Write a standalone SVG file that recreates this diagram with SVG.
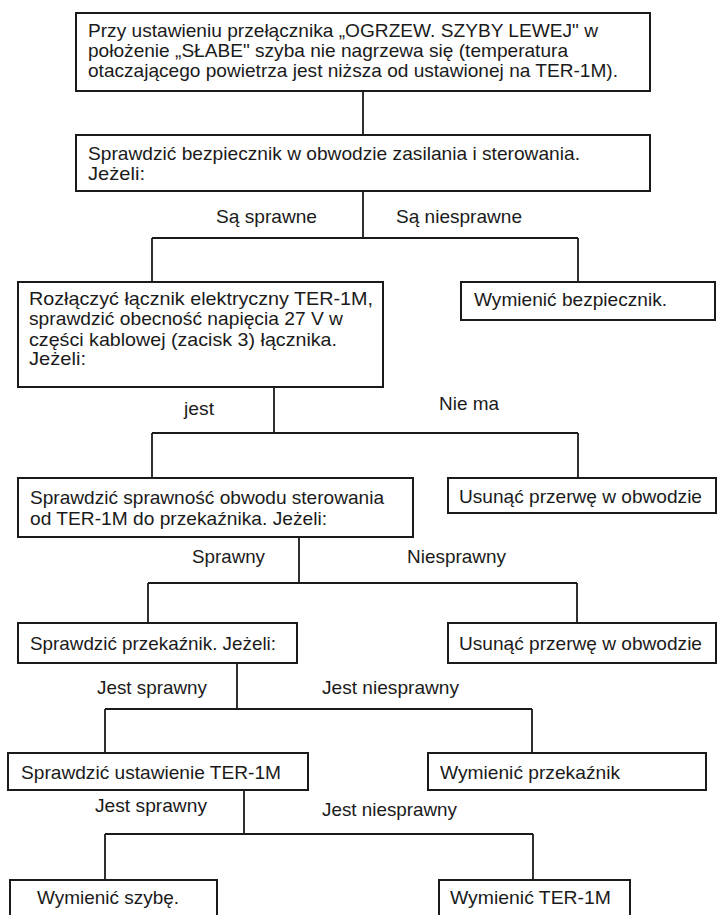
<svg xmlns="http://www.w3.org/2000/svg" width="717" height="915" viewBox="0 0 717 915">
<style>
rect{fill:#fff;stroke:#1a1a1a;stroke-width:2}
.c line{stroke:#1a1a1a;stroke-width:1.8}
text{font-family:"Liberation Sans",Arial,sans-serif;font-size:19px;fill:#1a1a1a}
</style>
<rect x="0" y="0" width="717" height="915" style="stroke:none"/>
<g class="c" id="connectors">
<line x1="363" y1="91" x2="363" y2="135"/>
<line x1="363" y1="191" x2="363" y2="238"/>
<line x1="152" y1="238" x2="578" y2="238"/>
<line x1="152" y1="238" x2="152" y2="282"/>
<line x1="578" y1="238" x2="578" y2="282"/>
<line x1="274" y1="387" x2="274" y2="433"/>
<line x1="152" y1="433" x2="578" y2="433"/>
<line x1="152" y1="433" x2="152" y2="478"/>
<line x1="578" y1="433" x2="578" y2="478"/>
<line x1="299" y1="537" x2="299" y2="583"/>
<line x1="148" y1="583" x2="577" y2="583"/>
<line x1="148" y1="583" x2="148" y2="623"/>
<line x1="577" y1="583" x2="577" y2="623"/>
<line x1="237" y1="663" x2="237" y2="709"/>
<line x1="105" y1="709" x2="532" y2="709"/>
<line x1="105" y1="709" x2="105" y2="753"/>
<line x1="532" y1="709" x2="532" y2="753"/>
<line x1="244" y1="790" x2="244" y2="834"/>
<line x1="105" y1="834" x2="533" y2="834"/>
<line x1="105" y1="834" x2="105" y2="880"/>
<line x1="533" y1="834" x2="533" y2="880"/>
<text x="216" y="223" textLength="101" lengthAdjust="spacingAndGlyphs">Są sprawne</text>
<text x="396" y="223" textLength="126" lengthAdjust="spacingAndGlyphs">Są niesprawne</text>
<text x="184" y="415" textLength="30" lengthAdjust="spacingAndGlyphs">jest</text>
<text x="439" y="410" textLength="60" lengthAdjust="spacingAndGlyphs">Nie ma</text>
<text x="192" y="563" textLength="73" lengthAdjust="spacingAndGlyphs">Sprawny</text>
<text x="407" y="563" textLength="99" lengthAdjust="spacingAndGlyphs">Niesprawny</text>
<text x="97" y="694" textLength="110" lengthAdjust="spacingAndGlyphs">Jest sprawny</text>
<text x="322" y="694" textLength="137" lengthAdjust="spacingAndGlyphs">Jest niesprawny</text>
<text x="95" y="812" textLength="112" lengthAdjust="spacingAndGlyphs">Jest sprawny</text>
<text x="322" y="816" textLength="135" lengthAdjust="spacingAndGlyphs">Jest niesprawny</text>
</g>
<g id="n1">
<rect x="76" y="13" width="574" height="78"/>
<text x="88" y="37" textLength="510" lengthAdjust="spacingAndGlyphs">Przy ustawieniu przełącznika „OGRZEW. SZYBY LEWEJ" w</text>
<text x="88" y="57" textLength="480" lengthAdjust="spacingAndGlyphs">położenie „SŁABE" szyba nie nagrzewa się (temperatura</text>
<text x="88" y="77" textLength="530" lengthAdjust="spacingAndGlyphs">otaczającego powietrza jest niższa od ustawionej na TER-1M).</text>
</g>
<g id="n2">
<rect x="76" y="135" width="574" height="56"/>
<text x="88" y="160" textLength="492" lengthAdjust="spacingAndGlyphs">Sprawdzić bezpiecznik w obwodzie zasilania i sterowania.</text>
<text x="88" y="180" textLength="57" lengthAdjust="spacingAndGlyphs">Jeżeli:</text>
</g>
<g id="n3">
<rect x="18" y="282" width="365" height="105"/>
<text x="29" y="305" textLength="344" lengthAdjust="spacingAndGlyphs">Rozłączyć łącznik elektryczny TER-1M,</text>
<text x="29" y="325" textLength="314" lengthAdjust="spacingAndGlyphs">sprawdzić obecność napięcia 27 V w</text>
<text x="29" y="346" textLength="308" lengthAdjust="spacingAndGlyphs">części kablowej (zacisk 3) łącznika.</text>
<text x="29" y="365" textLength="57" lengthAdjust="spacingAndGlyphs">Jeżeli:</text>
</g>
<g id="n4">
<rect x="461" y="282" width="254" height="38"/>
<text x="474" y="306" textLength="193" lengthAdjust="spacingAndGlyphs">Wymienić bezpiecznik.</text>
</g>
<g id="n5">
<rect x="18" y="478" width="395" height="59"/>
<text x="30" y="504" textLength="354" lengthAdjust="spacingAndGlyphs">Sprawdzić sprawność obwodu sterowania</text>
<text x="30" y="525" textLength="297" lengthAdjust="spacingAndGlyphs">od TER-1M do przekaźnika. Jeżeli:</text>
</g>
<g id="n6">
<rect x="448" y="478" width="268" height="35"/>
<text x="459" y="503" textLength="243" lengthAdjust="spacingAndGlyphs">Usunąć przerwę w obwodzie</text>
</g>
<g id="n7">
<rect x="18" y="623" width="279" height="40"/>
<text x="30" y="650" textLength="246" lengthAdjust="spacingAndGlyphs">Sprawdzić przekaźnik. Jeżeli:</text>
</g>
<g id="n8">
<rect x="448" y="623" width="268" height="40"/>
<text x="459" y="650" textLength="243" lengthAdjust="spacingAndGlyphs">Usunąć przerwę w obwodzie</text>
</g>
<g id="n9">
<rect x="8" y="753" width="300" height="37"/>
<text x="21" y="779" textLength="260" lengthAdjust="spacingAndGlyphs">Sprawdzić ustawienie TER-1M</text>
</g>
<g id="n10">
<rect x="428" y="753" width="278" height="37"/>
<text x="440" y="779" textLength="180" lengthAdjust="spacingAndGlyphs">Wymienić przekaźnik</text>
</g>
<g id="n11">
<rect x="10" y="880" width="207" height="50"/>
<text x="37" y="904" textLength="142" lengthAdjust="spacingAndGlyphs">Wymienić szybę.</text>
</g>
<g id="n12">
<rect x="439" y="880" width="191" height="50"/>
<text x="450" y="904" textLength="161" lengthAdjust="spacingAndGlyphs">Wymienić TER-1M</text>
</g>
</svg>
